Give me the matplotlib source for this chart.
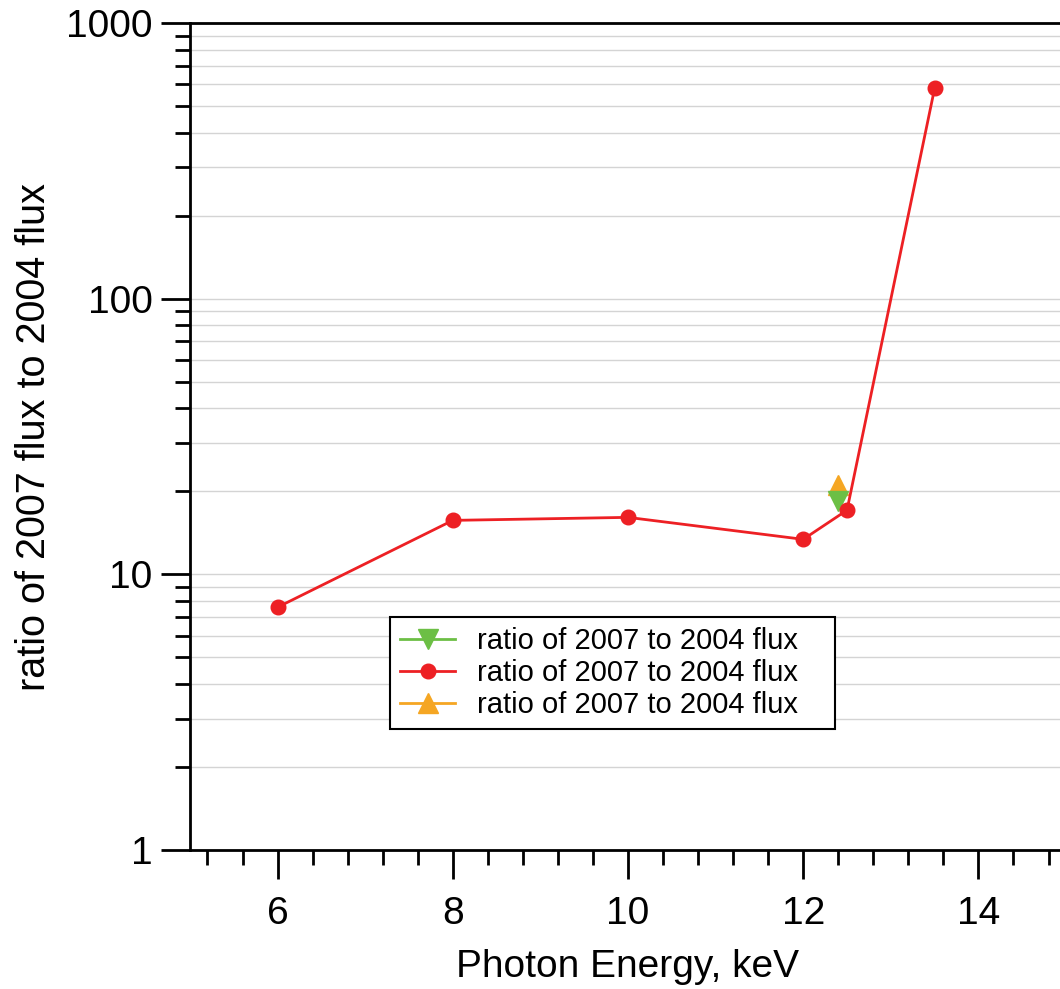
import matplotlib
matplotlib.use("Agg")
import matplotlib.pyplot as plt
from matplotlib.ticker import MultipleLocator, LogLocator, NullFormatter, FixedLocator, FixedFormatter

plt.rcParams['font.family'] = ['Liberation Sans', 'DejaVu Sans']

# Data
red_x = [6, 8, 10, 12, 12.5, 13.5]
red_y = [7.6, 15.7, 16.1, 13.4, 17.1, 580]
green_x = [12.4]
green_y = [18.4]
orange_x = [12.4]
orange_y = [21.1]
label = "ratio of 2007 to 2004 flux"
xticks = [6, 8, 10, 12, 14]
yticks = [1, 10, 100, 1000]
ytick_labels = ["1", "10", "100", "1000"]

fig = plt.figure(figsize=(10.6, 9.89), dpi=100)
ax = fig.add_axes([0.1792, 0.1405, 0.8265, 0.8362])

c_red = '#ED2024'
c_green = '#6CBF45'
c_orange = '#F5A623'

ax.plot(green_x, green_y, color=c_green, marker='v', markersize=14, lw=2, label=label, zorder=3)
ax.plot(red_x, red_y, color=c_red, marker='o', markersize=10.5, lw=2, label=label, zorder=4)
ax.plot(orange_x, orange_y, color=c_orange, marker='^', markersize=14, lw=2, label=label, zorder=2)

ax.set_yscale('log')
ax.set_ylim(1, 1000)
ax.set_xlim(5, 15)

ax.yaxis.set_major_locator(FixedLocator(yticks))
ax.yaxis.set_major_formatter(FixedFormatter(ytick_labels))
ax.yaxis.set_minor_locator(LogLocator(base=10, subs=range(2, 10)))
ax.yaxis.set_minor_formatter(NullFormatter())
ax.set_xticks(xticks)
ax.xaxis.set_minor_locator(MultipleLocator(0.4))

ax.grid(True, which='both', axis='y', color='#d4d4d4', lw=1)
ax.set_axisbelow(True)

for s in ax.spines.values():
    s.set_linewidth(2)
ax.tick_params(which='major', length=21, width=2, labelsize=28, direction='out')
ax.tick_params(which='minor', length=11, width=2, direction='out')
ax.tick_params(axis='x', which='major', pad=12)
ax.tick_params(axis='y', which='major', pad=6)

ax.set_xlabel("Photon Energy, keV", fontsize=28, labelpad=12)
ax.set_ylabel("ratio of 2007 flux to 2004 flux", fontsize=28.5, labelpad=9)

leg = ax.legend(loc='upper left', bbox_to_anchor=(0.228, 0.282 - 0.134, 0.508, 0.134),
                mode='expand', fontsize=21,
                frameon=True, fancybox=False, edgecolor='black', framealpha=1,
                handlelength=1.9, labelspacing=0.14, borderpad=0.35, handletextpad=0.75,
                borderaxespad=0)
leg.get_frame().set_linewidth(1.5)

fig.savefig("out.png", dpi=100)
